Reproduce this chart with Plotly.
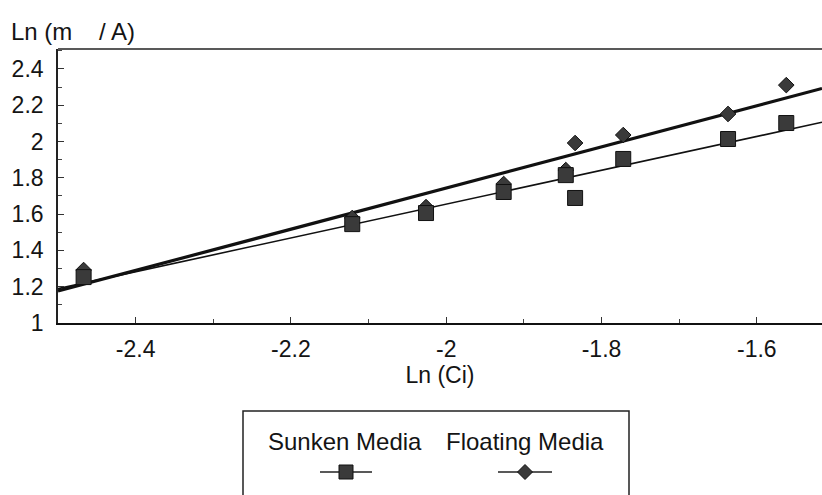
import numpy as np
import plotly.graph_objects as go

# ---- data ----
ln_ci = [-2.467, -2.121, -2.026, -1.926, -1.846, -1.834, -1.772, -1.637, -1.562]
sunken = [1.253, 1.545, 1.606, 1.722, 1.815, 1.689, 1.904, 2.014, 2.102]
floating = [1.292, 1.579, 1.639, 1.766, 1.843, 1.992, 2.036, 2.152, 2.311]
x_ticks = [-2.4, -2.2, -2.0, -1.8, -1.6]
x_tick_labels = ["-2.4", "-2.2", "-2", "-1.8", "-1.6"]
y_ticks = [1, 1.2, 1.4, 1.6, 1.8, 2.0, 2.2, 2.4]
y_tick_labels = ["1", "1.2", "1.4", "1.6", "1.8", "2", "2.2", "2.4"]
series_names = ["Sunken Media", "Floating Media"]

X_RANGE = [-2.5, -1.516]
Y_RANGE = [1.0, 2.51]

FONT = "Liberation Sans, Arial, sans-serif"
TXT = "#141414"
MARK = "#3a3a3a"

# layout geometry in pixels
W, H = 822, 495
L, R, T, B = 58, 0, 49, 172
PW, PH = W - L - R, H - T - B


def px(xp):
    return (xp - L) / PW


def py(yp):
    return (H - B - yp) / PH


# linear fits
fx = np.array(X_RANGE)
sk = np.polyfit(ln_ci, sunken, 1)
fl = np.polyfit(ln_ci, floating, 1)

fig = go.Figure()
fig.add_trace(go.Scatter(x=fx, y=np.polyval(sk, fx), mode="lines",
                         line=dict(color="#111", width=1.6), showlegend=False, hoverinfo="skip"))
fig.add_trace(go.Scatter(x=fx, y=np.polyval(fl, fx), mode="lines",
                         line=dict(color="#111", width=3.2), showlegend=False, hoverinfo="skip"))
fig.add_trace(go.Scatter(x=ln_ci, y=floating, mode="markers", name=series_names[1],
                         marker=dict(symbol="diamond", size=12, color=MARK,
                                     line=dict(color="#111", width=1)), showlegend=False))
fig.add_trace(go.Scatter(x=ln_ci, y=sunken, mode="markers", name=series_names[0],
                         marker=dict(symbol="square", size=15, color=MARK,
                                     line=dict(color="#111", width=1)), showlegend=False))

shapes = []
# top border of plot
shapes.append(dict(type="line", xref="paper", yref="paper", x0=0, x1=1, y0=1, y1=1,
                   line=dict(color="#222", width=1.6)))
# legend box
shapes.append(dict(type="rect", xref="paper", yref="paper", x0=px(243), x1=px(629),
                   y0=py(505), y1=py(411), line=dict(color="#222", width=1.5)))
# legend glyph: sunken
shapes.append(dict(type="line", xref="paper", yref="paper", x0=px(320), x1=px(372),
                   y0=py(472), y1=py(472), line=dict(color="#222", width=1.5)))
shapes.append(dict(type="rect", xref="paper", yref="paper", x0=px(339), x1=px(353),
                   y0=py(479), y1=py(465), fillcolor=MARK, line=dict(color="#111", width=1)))
# legend glyph: floating
shapes.append(dict(type="line", xref="paper", yref="paper", x0=px(498), x1=px(552),
                   y0=py(472), y1=py(472), line=dict(color="#222", width=1.5)))
cx, cy, d = 525, 472, 7.5
path = (f"M {px(cx - d)} {py(cy)} L {px(cx)} {py(cy - d)} "
        f"L {px(cx + d)} {py(cy)} L {px(cx)} {py(cy + d)} Z")
shapes.append(dict(type="path", xref="paper", yref="paper", path=path,
                   fillcolor=MARK, line=dict(color="#111", width=1)))

annotations = [
    dict(text="Ln (m    / A)", xref="paper", yref="paper", x=px(9), y=py(32),
         xanchor="left", yanchor="middle", showarrow=False,
         font=dict(family=FONT, size=24, color=TXT)),
    dict(text=series_names[0], xref="paper", yref="paper", x=px(345), y=py(441),
         xanchor="center", yanchor="middle", showarrow=False,
         font=dict(family=FONT, size=24, color=TXT)),
    dict(text=series_names[1], xref="paper", yref="paper", x=px(525), y=py(441),
         xanchor="center", yanchor="middle", showarrow=False,
         font=dict(family=FONT, size=24, color=TXT)),
]

fig.update_layout(
    width=W, height=H,
    margin=dict(l=L, r=R, t=T, b=B),
    paper_bgcolor="white", plot_bgcolor="white",
    font=dict(family=FONT, size=23, color=TXT),
    shapes=shapes, annotations=annotations,
    xaxis=dict(range=X_RANGE, tickvals=x_ticks, ticktext=x_tick_labels,
               ticks="inside", ticklen=6, tickwidth=1, tickcolor="#333",
               minor=dict(dtick=0.1, ticks="inside", ticklen=4, tickcolor="#444"),
               showline=True, linecolor="#111", linewidth=2.2,
               showgrid=False, zeroline=False, ticklabelstandoff=4,
               tickfont=dict(size=23, color=TXT),
               title=dict(text="Ln (Ci)", standoff=4, font=dict(size=23, color=TXT))),
    yaxis=dict(range=Y_RANGE, tickvals=y_ticks, ticktext=y_tick_labels,
               ticks="inside", ticklen=6, tickwidth=1, tickcolor="#333",
               minor=dict(dtick=0.1, ticks="inside", ticklen=4, tickcolor="#444"),
               showline=True, linecolor="#222", linewidth=1.6,
               showgrid=False, zeroline=False, ticklabelstandoff=8,
               tickfont=dict(size=23, color=TXT)),
    showlegend=False,
)

fig.write_html("out.html", config={"displayModeBar": False},
               post_script="document.body.style.margin='0';document.body.style.overflow='hidden';")
